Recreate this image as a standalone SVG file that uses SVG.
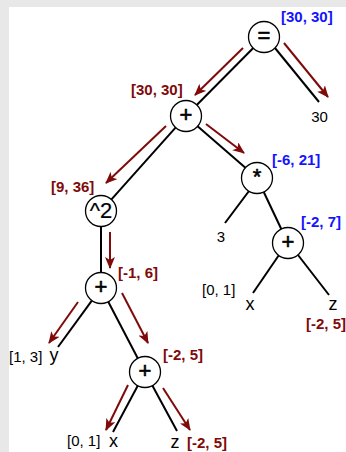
<svg xmlns="http://www.w3.org/2000/svg" width="346" height="452" viewBox="0 0 346 452">
<defs>
<style>
.bg{fill:#e8e8e8}
.panel{fill:#ffffff}
.node circle{fill:#ffffff;stroke:#000000;stroke-width:1.3}
.sym{font-family:"Liberation Sans",Arial,sans-serif;font-size:22px;fill:#000;stroke:#000;stroke-width:0.6;text-anchor:middle}
.edge{stroke:#000;stroke-width:2;fill:none}
.arr{stroke:#7f0a0a;stroke-width:2;fill:none;marker-end:url(#ah)}
.lbl{font-family:"Liberation Sans",Arial,sans-serif;font-size:15px;font-weight:bold}
.red{fill:#7f0a0a}
.blue{fill:#1414ff}
.txt{font-family:"Liberation Sans",Arial,sans-serif;font-size:15px;fill:#000}
.var{font-family:"Liberation Sans",Arial,sans-serif;font-size:18px;fill:#000}
</style>
<marker id="ah" markerUnits="userSpaceOnUse" markerWidth="13" markerHeight="10" refX="11" refY="5" orient="auto">
<path d="M0,0 L12,5 L0,10 L3,5 z" fill="#7f0a0a"/>
</marker>
</defs>
<rect class="bg" x="0" y="0" width="346" height="452"/>
<rect class="panel" x="9" y="7" width="337" height="445"/>

<g id="connectors">
<line class="edge" x1="253.5" y1="47.7" x2="196.5" y2="105.3"/>
<line class="edge" x1="275" y1="48" x2="319" y2="102"/>
<line class="edge" x1="176" y1="127.2" x2="111" y2="199.8"/>
<line class="edge" x1="197.3" y1="125.9" x2="245.7" y2="168.1"/>
<line class="edge" x1="249" y1="191" x2="225" y2="223"/>
<line class="edge" x1="263.5" y1="191.5" x2="281.5" y2="229.5"/>
<line class="edge" x1="279" y1="255" x2="253" y2="293"/>
<line class="edge" x1="298" y1="255" x2="329" y2="295"/>
<line class="edge" x1="101" y1="226" x2="101" y2="273"/>
<line class="edge" x1="92.2" y1="300.1" x2="58" y2="347"/>
<line class="edge" x1="108" y1="301.3" x2="138" y2="358.7"/>
<line class="edge" x1="138" y1="385.2" x2="113" y2="432"/>
<line class="edge" x1="152.2" y1="385.2" x2="177" y2="431"/>

<line class="arr" x1="243" y1="48" x2="195" y2="95"/>
<line class="arr" x1="284" y1="43" x2="328" y2="97"/>
<line class="arr" x1="166" y1="126" x2="106" y2="183"/>
<line class="arr" x1="206" y1="124" x2="244" y2="153"/>
<line class="arr" x1="110" y1="232" x2="110" y2="268"/>
<line class="arr" x1="78" y1="302" x2="49" y2="343"/>
<line class="arr" x1="122" y1="293" x2="148" y2="343"/>
<line class="arr" x1="128" y1="385" x2="106" y2="430"/>
<line class="arr" x1="163" y1="388" x2="190" y2="430"/>
</g>

<g id="n-eq" class="node"><circle cx="264" cy="37" r="15.5"/><text class="sym" x="264" y="43">=</text></g>
<g id="n-plus1" class="node"><circle cx="186" cy="116" r="15.5"/><text class="sym" x="186" y="122">+</text></g>
<g id="n-sq" class="node"><circle cx="101" cy="211" r="15.5"/><text class="sym" x="101" y="218" style="stroke-width:0.2">^2</text></g>
<g id="n-mul" class="node"><circle cx="257" cy="178" r="15.5"/><text class="sym" x="257" y="184">*</text></g>
<g id="n-plus2" class="node"><circle cx="288" cy="243" r="15.5"/><text class="sym" x="288" y="249">+</text></g>
<g id="n-plus3" class="node"><circle cx="101" cy="288" r="15.5"/><text class="sym" x="101" y="294">+</text></g>
<g id="n-plus4" class="node"><circle cx="145" cy="372" r="15.5"/><text class="sym" x="145" y="378">+</text></g>

<g id="leaf-30"><text class="txt" x="319.5" y="122" text-anchor="middle">30</text></g>
<g id="leaf-3"><text class="txt" x="221" y="242" text-anchor="middle">3</text></g>
<g id="leaf-x1"><text class="txt" x="202" y="295">[0, 1]</text><text class="var" x="250" y="310" text-anchor="middle">x</text></g>
<g id="leaf-z1"><text class="var" x="333" y="310" text-anchor="middle">z</text><text class="lbl red" x="306" y="329">[-2, 5]</text></g>
<g id="leaf-y"><text class="txt" x="9" y="362">[1, 3]</text><text class="var" x="54" y="361" text-anchor="middle">y</text></g>
<g id="leaf-x2"><text class="txt" x="67" y="446">[0, 1]</text><text class="var" x="113.5" y="447" text-anchor="middle">x</text></g>
<g id="leaf-z2"><text class="var" x="175" y="448" text-anchor="middle">z</text><text class="lbl red" x="187" y="448">[-2, 5]</text></g>

<g id="labels">
<text class="lbl blue" x="281" y="22">[30, 30]</text>
<text class="lbl red" x="131" y="95">[30, 30]</text>
<text class="lbl red" x="51" y="192">[9, 36]</text>
<text class="lbl blue" x="272" y="165">[-6, 21]</text>
<text class="lbl blue" x="301" y="227">[-2, 7]</text>
<text class="lbl red" x="118" y="278">[-1, 6]</text>
<text class="lbl red" x="163" y="360">[-2, 5]</text>
</g>
</svg>
